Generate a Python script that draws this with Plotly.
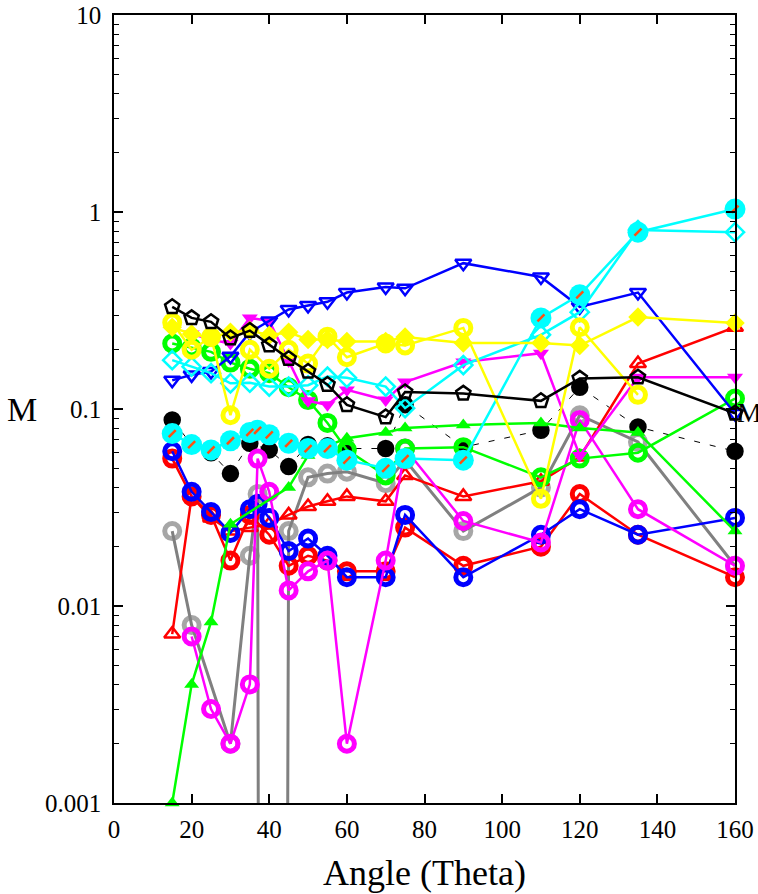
import plotly.graph_objects as go

# ---------------- data ----------------
bf_x = [15, 20, 25, 30, 35, 40, 45, 50, 55, 60, 70, 75, 90, 110, 120, 135, 160]
bf_y = [0.088, 0.066, 0.060, 0.047, 0.067, 0.062, 0.051, 0.066, 0.065, 0.063, 0.063, 0.105, 0.064, 0.078, 0.129, 0.081, 0.061]

gr_x = [15, 20, 30, 35, 37, 40, 45, 50, 55, 60, 70, 75, 90, 110, 120, 135, 160]
gr_y = [0.024, 0.008, 0.002, 0.018, 0.037, 1e-30, 0.024, 0.045, 0.047, 0.048, 0.042, 0.055, 0.024, 0.040, 0.093, 0.068, 0.016]

rt_x = [15, 20, 25, 30, 35, 40, 45, 50, 55, 60, 70, 75, 90, 110, 120, 135, 160]
rt_y = [0.0072, 0.036, 0.028, 0.024, 0.025, 0.026, 0.029, 0.032, 0.034, 0.036, 0.034, 0.046, 0.036, 0.043, 0.057, 0.17, 0.26]

ro_x = [15, 20, 25, 30, 35, 40, 45, 50, 55, 60, 70, 75, 90, 110, 120, 135, 160]
ro_y = [0.056, 0.036, 0.029, 0.017, 0.029, 0.023, 0.016, 0.018, 0.017, 0.015, 0.015, 0.025, 0.016, 0.020, 0.037, 0.023, 0.014]

bo_x = [15, 20, 25, 30, 35, 37, 40, 45, 50, 55, 60, 70, 75, 90, 110, 120, 135, 160]
bo_y = [0.061, 0.038, 0.030, 0.0235, 0.031, 0.033, 0.028, 0.019, 0.022, 0.018, 0.014, 0.014, 0.029, 0.014, 0.023, 0.031, 0.023, 0.028]

mo_x = [20, 25, 30, 35, 37, 40, 45, 50, 55, 60, 70, 75, 90, 110, 120, 135, 160]
mo_y = [0.007, 0.003, 0.002, 0.004, 0.056, 0.038, 0.012, 0.015, 0.017, 0.002, 0.017, 0.063, 0.027, 0.021, 0.088, 0.031, 0.016]

gt_x = [15, 20, 25, 30, 45, 50, 55, 60, 70, 75, 90, 110, 120, 135, 160]
gt_y = [0.001, 0.004, 0.0083, 0.026, 0.040, 0.058, 0.065, 0.071, 0.076, 0.080, 0.083, 0.085, 0.080, 0.076, 0.024]

go_x = [15, 20, 25, 30, 35, 40, 45, 50, 55, 60, 70, 75, 90, 110, 120, 135, 160]
go_y = [0.215, 0.205, 0.195, 0.172, 0.16, 0.152, 0.129, 0.111, 0.085, 0.062, 0.046, 0.063, 0.064, 0.045, 0.056, 0.060, 0.113]

mt_x = [20, 25, 30, 35, 40, 45, 50, 55, 60, 70, 75, 90, 110, 120, 135, 160]
mt_y = [0.24, 0.225, 0.215, 0.29, 0.28, 0.175, 0.11, 0.105, 0.125, 0.111, 0.137, 0.173, 0.192, 0.058, 0.145, 0.145]

bt_x = [15, 20, 25, 30, 35, 40, 45, 50, 55, 60, 70, 75, 90, 110, 120, 135, 160]
bt_y = [0.14, 0.149, 0.155, 0.185, 0.245, 0.28, 0.32, 0.335, 0.35, 0.39, 0.416, 0.41, 0.55, 0.468, 0.33, 0.39, 0.095]

cd_x = [15, 20, 25, 30, 35, 40, 45, 50, 55, 60, 70, 75, 90, 110, 120, 135, 160]
cd_y = [0.177, 0.164, 0.152, 0.135, 0.136, 0.13, 0.13, 0.132, 0.146, 0.144, 0.13, 0.101, 0.167, 0.238, 0.31, 0.81, 0.79]

co_x = [15, 20, 25, 30, 35, 37, 40, 45, 50, 55, 60, 70, 75, 90, 110, 120, 135, 160]
co_y = [0.075, 0.066, 0.062, 0.069, 0.076, 0.078, 0.074, 0.067, 0.063, 0.063, 0.055, 0.050, 0.056, 0.055, 0.29, 0.38, 0.79, 1.035]

yd_x = [15, 20, 25, 30, 35, 40, 45, 50, 55, 60, 70, 75, 90, 110, 120, 135, 160]
yd_y = [0.26, 0.24, 0.23, 0.245, 0.25, 0.237, 0.245, 0.225, 0.225, 0.22, 0.22, 0.232, 0.216, 0.216, 0.21, 0.293, 0.273]

yo_x = [15, 20, 25, 30, 35, 40, 45, 50, 55, 60, 70, 75, 90, 110, 120, 135]
yo_y = [0.275, 0.20, 0.232, 0.093, 0.20, 0.16, 0.20, 0.17, 0.233, 0.183, 0.215, 0.21, 0.258, 0.035, 0.26, 0.118]

bp_x = [15, 20, 25, 30, 35, 40, 45, 50, 55, 60, 70, 75, 90, 110, 120, 135, 160]
bp_y = [0.33, 0.29, 0.277, 0.229, 0.25, 0.211, 0.18, 0.155, 0.133, 0.105, 0.091, 0.122, 0.12, 0.11, 0.143, 0.145, 0.095]

y_tickvals = [0.001, 0.01, 0.1, 1, 10]
y_ticktext = ["0.001", "0.01", "0.1", "1", "10"]
x_tickvals = [0, 20, 40, 60, 80, 100, 120, 140, 160]

# ---------------- styles ----------------
FONT = "Liberation Serif"
BLACK, GRAY, RED, BLUE = "#000000", "#808080", "#ff0000", "#0000ff"
MAG, GREEN, CYAN, YEL = "#ff00ff", "#00ff00", "#00ffff", "#ffff00"

fig = go.Figure()


def add(x, y, color, symbol, size, lw=2.5, mlw=2.5, dash="solid", clip=False, mcolor=None):
    fig.add_trace(go.Scatter(
        x=x, y=y, mode="lines+markers",
        line=dict(color=color, width=lw, dash=dash),
        marker=dict(symbol=symbol, size=size, color=mcolor or color,
                    line=dict(color=mcolor or color, width=mlw)),
        cliponaxis=clip, showlegend=False))


add(bf_x, bf_y, BLACK, "circle", 15, lw=1, dash="6px,10px")
# gray: hide marker at off-scale point
fig.add_trace(go.Scatter(
    x=gr_x, y=gr_y, mode="lines+markers",
    line=dict(color=GRAY, width=3),
    marker=dict(symbol="circle-open", size=[15 if v > 1e-5 else 0 for v in gr_y],
                color=GRAY, line=dict(color=GRAY, width=5)),
    cliponaxis=True, showlegend=False))
add(rt_x, rt_y, RED, "triangle-up-open", 14)
add(ro_x, ro_y, RED, "circle-open", 15, mlw=5)
add(bo_x, bo_y, BLUE, "circle-open", 15, mlw=5)
add(mo_x, mo_y, MAG, "circle-open", 15, mlw=5)
add(gt_x, gt_y, GREEN, "triangle-up", 13, mlw=0)
add(go_x, go_y, GREEN, "circle-open", 15, mlw=5)
add(mt_x, mt_y, MAG, "triangle-down", 14, mlw=0)
add(bt_x, bt_y, BLUE, "triangle-down-open", 14)
add(cd_x, cd_y, CYAN, "diamond-open", 14)
add(co_x, co_y, CYAN, "circle", 21, mlw=0)
fig.add_trace(go.Scatter(
    x=co_x, y=co_y, mode="markers",
    marker=dict(symbol="line-ne", size=7, color="#ff5010",
                line=dict(color="#ff5010", width=2.5)),
    cliponaxis=False, showlegend=False, hoverinfo="skip"))
add(yd_x, yd_y, YEL, "diamond", 15, mlw=0)
add(yo_x, yo_y, YEL, "circle-open", 15, mlw=5)
add(bp_x, bp_y, BLACK, "pentagon-open", 15)

axis_common = dict(
    showline=True, linecolor="black", linewidth=1.5, mirror="allticks",
    ticks="inside", tickcolor="black", tickwidth=1.5, ticklen=9,
    showgrid=False, zeroline=False, automargin=False, ticklabeloverflow="allow",
    tickfont=dict(family=FONT, size=25, color="black"),
)

fig.update_xaxes(range=[0, 160], tickvals=x_tickvals, ticklabelstandoff=3,
                 title=dict(text="Angle (Theta)", font=dict(family=FONT, size=36, color="black"),
                            standoff=18),
                 **axis_common)
fig.update_yaxes(type="log", range=[-3, 1], tickvals=y_tickvals, ticktext=y_ticktext,
                 ticklabelstandoff=6,
                 minor=dict(ticks="inside", ticklen=5, tickcolor="black", tickwidth=1.2,
                            dtick="D1", showgrid=False),
                 **axis_common)

fig.add_annotation(text="M", xref="paper", yref="paper", x=-0.148, y=0.499,
                   xanchor="center", showarrow=False,
                   font=dict(family=FONT, size=34, color="black"))
fig.add_annotation(text="M", xref="paper", yref="paper", x=1.0, y=0.495,
                   xanchor="left", showarrow=False,
                   font=dict(family=FONT, size=28, color="black"))

fig.update_layout(
    width=758, height=894,
    margin=dict(l=114, r=23, t=15, b=91, autoexpand=False),
    paper_bgcolor="white", plot_bgcolor="white",
    font=dict(family=FONT, color="black"),
)

# remove the browser's default 8px page margin so the figure sits at the window origin
fig.write_html("out.html", config={"displayModeBar": False},
               post_script="document.body.style.margin='0';")
